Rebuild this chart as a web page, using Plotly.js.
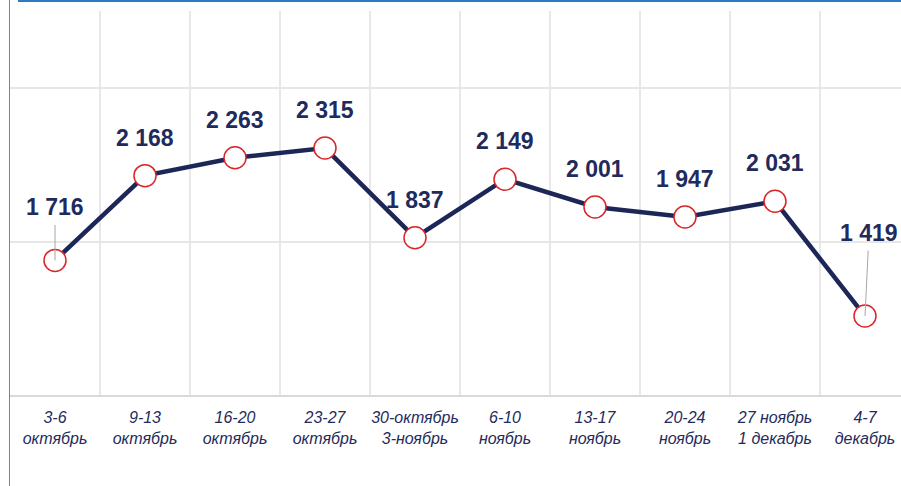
<!DOCTYPE html>
<html>
<head>
<meta charset="utf-8">
<script src="https://cdn.plot.ly/plotly-3.0.1.min.js"></script>
<style>
  html, body { margin: 0; padding: 0; background: #ffffff; }
  #wrap { position: relative; width: 901px; height: 486px; overflow: hidden; }
  #chart { position: absolute; left: 0; top: 0; width: 901px; height: 486px; }
  #topbar { position: absolute; left: 18px; top: 0; width: 883px; height: 2px; background: #2f7bc3; z-index: 5; }
  #leftbar { position: absolute; left: 9px; top: 0; width: 1px; height: 486px; background: #4a8fd0; z-index: 5; }
</style>
</head>
<body>
<div id="wrap">
  <div id="chart"></div>
  <div id="topbar"></div>
  <div id="leftbar"></div>
</div>
<script>
var categories = [
  "3-6<br>октябрь",
  "9-13<br>октябрь",
  "16-20<br>октябрь",
  "23-27<br>октябрь",
  "30-октябрь<br>3-ноябрь",
  "6-10<br>ноябрь",
  "13-17<br>ноябрь",
  "20-24<br>ноябрь",
  "27 ноябрь<br>1 декабрь",
  "4-7<br>декабрь"
];
var values = [1716, 2168, 2263, 2315, 1837, 2149, 2001, 1947, 2031, 1419];
var valueLabels = ["1 716", "2 168", "2 263", "2 315", "1 837", "2 149", "2 001", "1 947", "2 031", "1 419"];
var gridValues = [1815, 2635];

var navy = "#1f2b5c";
var idx = categories.map(function (c, i) { return i; });

var trace = {
  x: idx,
  y: values,
  type: "scatter",
  mode: "lines+markers",
  line: { color: "#1c2757", width: 4.5 },
  marker: { size: 22, color: "#ffffff", line: { color: "#d8262b", width: 1.5 } },
  hoverinfo: "skip",
  cliponaxis: false
};

var annotations = idx.map(function (i) {
  var base = {
    x: i, y: values[i], xref: "x", yref: "y",
    text: "<b>" + valueLabels[i] + "</b>",
    font: { family: "Liberation Sans, Arial, sans-serif", size: 23, color: navy },
    showarrow: false,
    yshift: 38
  };
  if (i === 0) {
    base.showarrow = true; base.ax = 0; base.ay = -53; base.yshift = 0;
    base.arrowhead = 0; base.arrowwidth = 1; base.arrowcolor = "#a6a6a6"; base.borderpad = 4;
  }
  if (i === 9) {
    base.showarrow = true; base.ax = 4; base.ay = -83; base.yshift = 0;
    base.arrowhead = 0; base.arrowwidth = 1; base.arrowcolor = "#a6a6a6"; base.borderpad = 4;
  }
  return base;
});

var layout = {
  width: 901,
  height: 486,
  margin: { l: 10, r: 0, t: 11, b: 91 },
  paper_bgcolor: "#ffffff",
  plot_bgcolor: "#ffffff",
  showlegend: false,
  xaxis: {
    range: [-0.5, 9.4],
    tickvals: idx,
    ticktext: categories.map(function (c) { return "<i>" + c + "</i>"; }),
    tickfont: { family: "Liberation Sans, Arial, sans-serif", size: 16, color: navy, style: "italic" },
    ticks: "",
    ticklabelstandoff: 7,
    showgrid: false,
    zeroline: false,
    showline: true,
    linecolor: "#d9d9d9",
    linewidth: 2,
    minor: { tick0: 0.5, dtick: 1, showgrid: true, gridcolor: "#e8e8e8", gridwidth: 2, ticks: "" },
    fixedrange: true
  },
  yaxis: {
    range: [998, 3046],
    tickvals: gridValues,
    showticklabels: false,
    ticks: "",
    showgrid: true,
    gridcolor: "#e6e6e6",
    gridwidth: 2,
    zeroline: false,
    showline: false,
    fixedrange: true
  },
  annotations: annotations
};

Plotly.newPlot("chart", [trace], layout, { displayModeBar: false, staticPlot: true });
</script>
</body>
</html>
